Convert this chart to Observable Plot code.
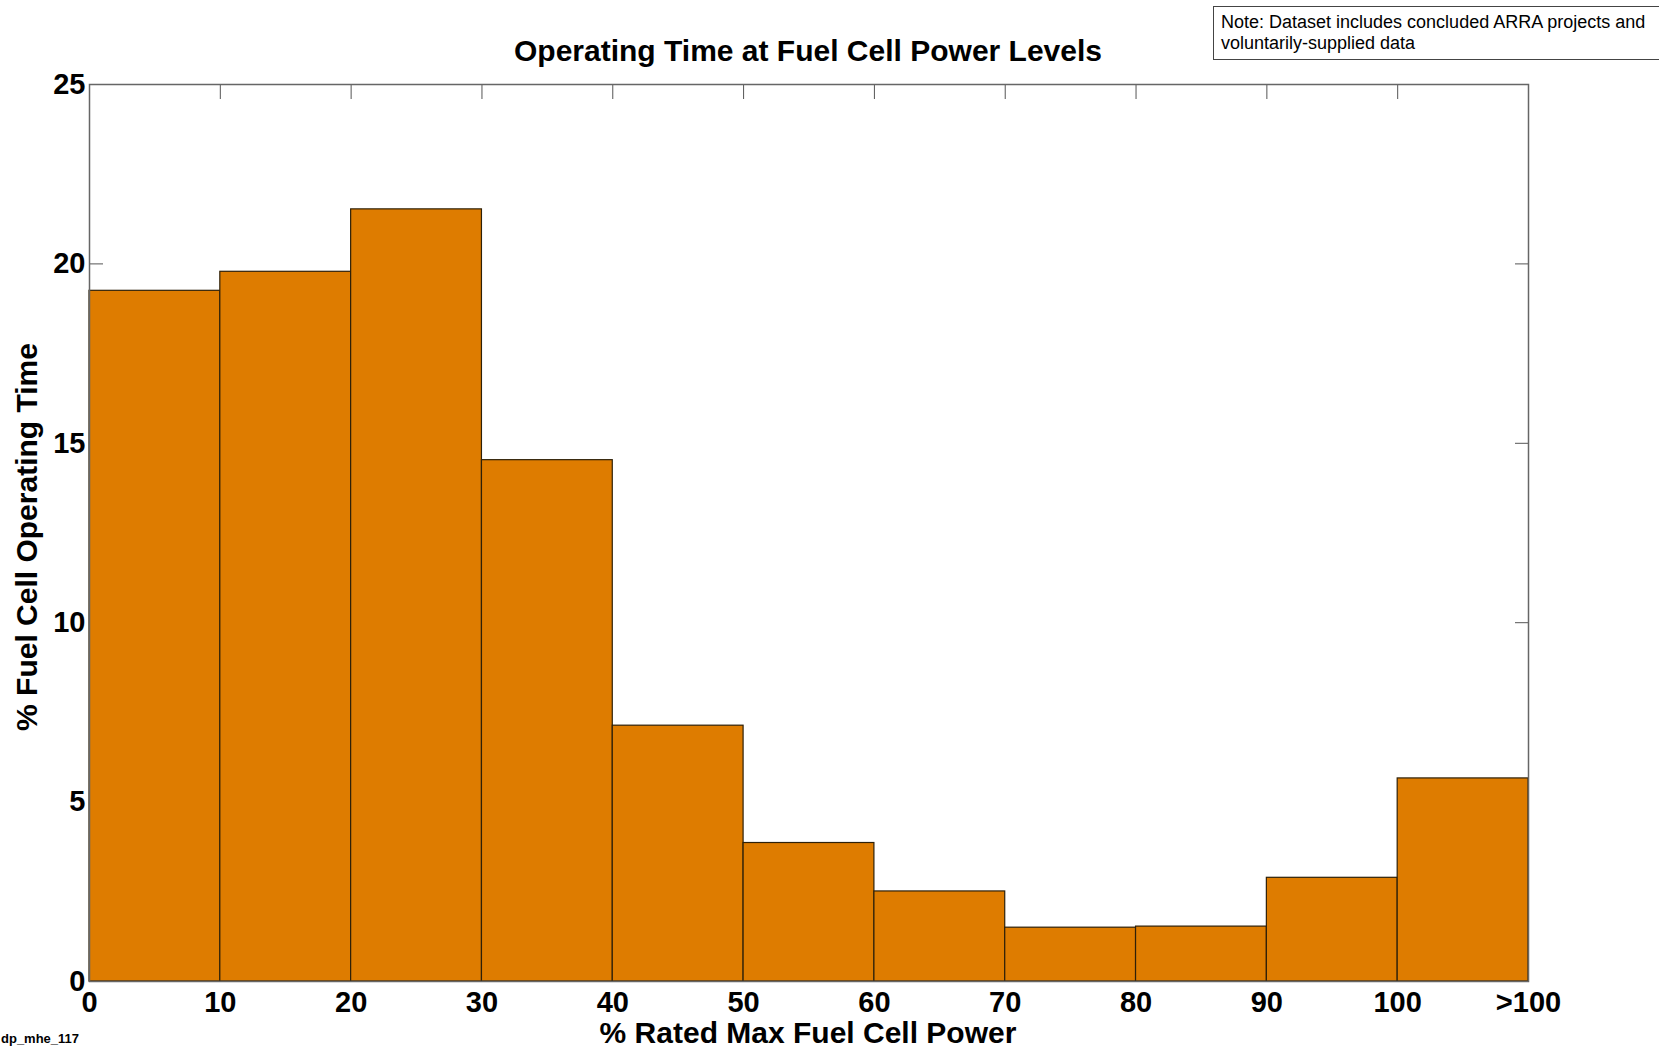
<!DOCTYPE html>
<html><head><meta charset="utf-8">
<script src="https://cdn.jsdelivr.net/npm/d3@7"></script>
<script src="https://cdn.jsdelivr.net/npm/@observablehq/plot@0.6"></script>
<style>
body{margin:0;background:#fff;}
#wrap{position:relative;width:1660px;height:1048px;overflow:hidden;font-family:"Liberation Sans",Arial,sans-serif;color:#000;}
#chart{position:absolute;left:0;top:0;}
.lbl{position:absolute;font-weight:bold;white-space:nowrap;transform:translate(-50%,-50%);}
#title{left:808px;top:51px;font-size:30px;}
#xlabel{left:808px;top:1033px;font-size:30px;}
#ylabel{left:27px;top:537px;font-size:30px;transform:translate(-50%,-50%) rotate(-90deg);}
#caption{position:absolute;left:1px;top:1031px;font-size:13px;line-height:15px;font-weight:bold;white-space:nowrap;}
#note{position:absolute;left:1213px;top:6px;width:446px;height:54px;box-sizing:border-box;border:1px solid #444;border-right:none;font-size:18px;line-height:21px;padding:5px 0 0 7px;white-space:nowrap;background:#fff;}
</style></head><body>
<div id="wrap">
<div id="chart"></div>
<div class="lbl" id="title">Operating Time at Fuel Cell Power Levels</div>
<div class="lbl" id="xlabel">% Rated Max Fuel Cell Power</div>
<div class="lbl" id="ylabel">% Fuel Cell Operating Time</div>
<div id="caption">dp_mhe_117</div>
<div id="note">Note: Dataset includes concluded ARRA projects and<br>voluntarily-supplied data</div>
</div>
<script>
// Data
const binStarts = [0, 10, 20, 30, 40, 50, 60, 70, 80, 90, 100];
const binEnds = [10, 20, 30, 40, 50, 60, 70, 80, 90, 100, 110];
const operatingPct = [19.25, 19.78, 21.52, 14.53, 7.13, 3.86, 2.51, 1.50, 1.53, 2.89, 5.66];
const xTicks = [0, 10, 20, 30, 40, 50, 60, 70, 80, 90, 100, 110];
const xTickLabels = ["0", "10", "20", "30", "40", "50", "60", "70", "80", "90", "100", ">100"];
const yTicks = [0, 5, 10, 15, 20, 25];

const bins = binStarts.map((s, i) => ({start: s, end: binEnds[i], pct: operatingPct[i]}));

const tickColor = "#555";
const plot = Plot.plot({
  width: 1660,
  height: 1048,
  marginLeft: 89,
  marginRight: 132,
  marginTop: 84,
  marginBottom: 67,
  style: {background: "transparent", color: "#000", fontFamily: "'Liberation Sans', Arial, sans-serif"},
  x: {domain: [0, 110], label: null},
  y: {domain: [0, 25], label: null},
  marks: [
    // inward ticks (drawn first so bars hide them)
    Plot.axisY({ticks: yTicks, anchor: "left", tickSize: 14, dx: 14, tickFormat: () => "", label: null, stroke: tickColor}),
    Plot.axisY({ticks: yTicks, anchor: "right", tickSize: 14, dx: -14, tickFormat: () => "", label: null, stroke: tickColor}),
    Plot.axisX({ticks: xTicks, anchor: "top", tickSize: 14, dy: 14, tickFormat: () => "", label: null, stroke: tickColor}),
    Plot.rectY(bins, {x1: "start", x2: "end", y: "pct", fill: "#DE7C00", stroke: "#2e2008", strokeWidth: 1.2}),
    Plot.frame({stroke: "#666", strokeWidth: 1.5}),
    Plot.axisY({ticks: yTicks, anchor: "left", tickSize: 0, tickPadding: 4, fontSize: 29, fontWeight: "bold", label: null}),
    Plot.axisX({ticks: xTicks, anchor: "bottom", tickSize: 0, tickPadding: 10, fontSize: 29, fontWeight: "bold", label: null,
      tickFormat: d => xTickLabels[xTicks.indexOf(d)]})
  ]
});
document.getElementById("chart").appendChild(plot);
</script>
</body></html>
